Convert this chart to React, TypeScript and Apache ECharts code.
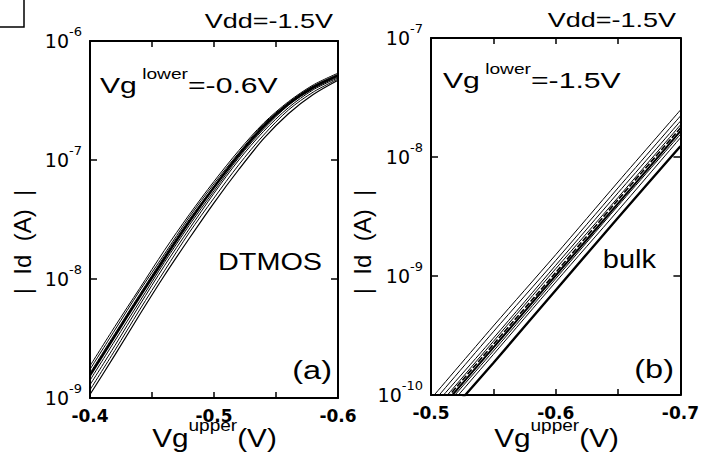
import React, { useEffect, useRef } from "react";
import * as echarts from "echarts";

// ---------- data ----------
// Panel (a): DTMOS, Vg_lower = -0.6 V
const dtmosV = [-0.4, -0.42, -0.44, -0.46, -0.48, -0.5, -0.52, -0.54, -0.56, -0.58, -0.6];
const dtmosId1 = [1.86e-9, 3.98e-9, 8.32e-9, 1.74e-8, 3.47e-8, 6.61e-8, 1.2e-7, 2.04e-7, 3.09e-7, 4.27e-7, 5.37e-7];
const dtmosId2 = [1.74e-9, 3.72e-9, 7.94e-9, 1.62e-8, 3.31e-8, 6.31e-8, 1.15e-7, 2.0e-7, 3.02e-7, 4.17e-7, 5.25e-7];
const dtmosId3 = [1.62e-9, 3.47e-9, 7.41e-9, 1.55e-8, 3.16e-8, 6.03e-8, 1.12e-7, 1.95e-7, 3.02e-7, 4.17e-7, 5.13e-7];
const dtmosId4 = [1.55e-9, 3.31e-9, 7.08e-9, 1.48e-8, 3.02e-8, 5.89e-8, 1.1e-7, 1.91e-7, 2.95e-7, 4.07e-7, 5.13e-7];
const dtmosId5 = [1.41e-9, 3.02e-9, 6.46e-9, 1.38e-8, 2.82e-8, 5.5e-8, 1.05e-7, 1.82e-7, 2.88e-7, 3.98e-7, 5.01e-7];
const dtmosId6 = [1.29e-9, 2.75e-9, 6.03e-9, 1.29e-8, 2.63e-8, 5.25e-8, 1.0e-7, 1.74e-7, 2.75e-7, 3.89e-7, 4.9e-7];
const dtmosId7 = [1.17e-9, 2.51e-9, 5.5e-9, 1.17e-8, 2.45e-8, 4.79e-8, 9.12e-8, 1.62e-7, 2.63e-7, 3.72e-7, 4.79e-7];
const dtmosId8 = [1.07e-9, 2.29e-9, 5.01e-9, 1.07e-8, 2.19e-8, 4.37e-8, 8.32e-8, 1.51e-7, 2.45e-7, 3.55e-7, 4.68e-7];

// Panel (b): bulk, Vg_lower = -1.5 V
const bulkV = [-0.5, -0.55, -0.6, -0.65, -0.7];
const bulkId1 = [9.3e-11, 3.8e-10, 1.51e-9, 6.17e-9, 2.48e-8];
const bulkId2 = [8.3e-11, 3.4e-10, 1.35e-9, 5.5e-9, 2.21e-8];
const bulkId3 = [7.6e-11, 3.0e-10, 1.23e-9, 5.0e-9, 2.0e-8];
const bulkId4 = [6.9e-11, 2.82e-10, 1.15e-9, 4.57e-9, 1.86e-8];
const bulkId5 = [6.6e-11, 2.66e-10, 1.07e-9, 4.37e-9, 1.75e-8];
const bulkId6 = [6.2e-11, 2.5e-10, 1.01e-9, 4.07e-9, 1.65e-8];
const bulkId7 = [5.9e-11, 2.34e-10, 9.5e-10, 3.89e-9, 1.55e-8];
const bulkId8 = [5.4e-11, 2.19e-10, 8.9e-10, 3.55e-9, 1.45e-8];
const bulkId9 = [4.7e-11, 1.86e-10, 7.6e-10, 3.09e-9, 1.23e-8];

// axis ranges / labels
const panelAXRange = [-0.6, -0.4];
const panelBXRange = [-0.7, -0.5];
const panelAYRange = [1e-9, 1e-6];
const panelBYRange = [1e-10, 1e-7];
const xTickStep = 0.05;

const SANS = "'Liberation Sans', Arial, Helvetica, sans-serif";
const WIDE = "'DejaVu Sans', 'Liberation Sans', sans-serif";

function xAxis(gridIndex: number, range: number[], top: boolean) {
  return {
    type: "value",
    gridIndex,
    position: top ? "top" : "bottom",
    min: range[0],
    max: range[1],
    interval: xTickStep,
    inverse: true,
    axisLine: { show: true, onZero: false, lineStyle: { color: "#000", width: 2 } },
    axisTick: { show: true, inside: true, length: 6, lineStyle: { color: "#000", width: 1.5 } },
    splitLine: { show: false },
    axisLabel: top
      ? { show: false }
      : {
          show: true,
          margin: 9,
          color: "#000",
          fontFamily: WIDE,
          fontWeight: "bold",
          fontSize: 17,
          showMinLabel: true,
          showMaxLabel: true,
          formatter: (v: number) =>
            Math.abs(Math.round(v * 100)) % 10 === 0 ? v.toFixed(1) : "",
        },
  };
}

function yAxis(gridIndex: number, range: number[], right: boolean) {
  return {
    type: "log",
    logBase: 10,
    gridIndex,
    position: right ? "right" : "left",
    min: range[0],
    max: range[1],
    axisLine: { show: true, onZero: false, lineStyle: { color: "#000", width: 2 } },
    axisTick: { show: true, inside: true, length: 7, lineStyle: { color: "#000", width: 1.5 } },
    splitLine: { show: false },
    minorTick: { show: false },
    axisLabel: right
      ? { show: false }
      : {
          show: true,
          margin: 8,
          color: "#000",
          formatter: (v: number) => {
            const e = Math.round(Math.log10(v));
            return `{b|10}{s|${e}}`;
          },
          rich: {
            b: { fontFamily: WIDE, fontSize: 19, lineHeight: 32, color: "#000" },
            s: { fontFamily: WIDE, fontSize: 13, lineHeight: 14, verticalAlign: "top", color: "#000" },
          },
        },
  };
}

function lineSeries(
  name: string,
  xs: number[],
  ys: number[],
  axisIdx: number,
  width: number,
  dashed = false
) {
  return {
    type: "line",
    name,
    xAxisIndex: axisIdx,
    yAxisIndex: axisIdx,
    data: xs.map((x, i) => [x, ys[i]]),
    showSymbol: false,
    symbol: "none",
    smooth: 0.3,
    clip: true,
    lineStyle: { color: "#000", width, type: dashed ? [6, 2] : "solid" },
    z: width > 1.5 ? 3 : 2,
  };
}

function richText(
  x: number,
  y: number,
  text: string,
  align: string,
  scaleX: number,
  main: number,
  sup: number,
  mainLH: number
) {
  return {
    type: "text",
    x,
    y,
    scaleX,
    scaleY: 1,
    style: {
      text,
      fill: "#000",
      align,
      verticalAlign: "middle",
      textAlign: align,
      textVerticalAlign: "middle",
      rich: {
        m: { fontFamily: SANS, fontSize: main, lineHeight: mainLH, fill: "#000", color: "#000" },
        s: { fontFamily: SANS, fontSize: sup, lineHeight: sup + 2, verticalAlign: "top", fill: "#000", color: "#000" },
      },
    },
  };
}

function plainText(x: number, y: number, text: string, align: string, size: number, scaleX: number, rotation = 0) {
  return {
    type: "text",
    x,
    y,
    scaleX,
    scaleY: 1,
    rotation,
    style: {
      text,
      fill: "#000",
      font: `${size}px ${SANS}`,
      fontFamily: SANS,
      fontSize: size,
      align,
      verticalAlign: "middle",
      textAlign: align,
      textVerticalAlign: "middle",
    },
  };
}

const option = {
  animation: false,
  backgroundColor: "#fff",
  grid: [
    { left: 90, top: 41, width: 248, height: 357, containLabel: false },
    { left: 431, top: 38, width: 251, height: 357, containLabel: false },
  ],
  xAxis: [
    xAxis(0, panelAXRange, false),
    xAxis(0, panelAXRange, true),
    xAxis(1, panelBXRange, false),
    xAxis(1, panelBXRange, true),
  ],
  yAxis: [
    yAxis(0, panelAYRange, false),
    yAxis(0, panelAYRange, true),
    yAxis(1, panelBYRange, false),
    yAxis(1, panelBYRange, true),
  ],
  series: [
    lineSeries("DTMOS 1", dtmosV, dtmosId1, 0, 1),
    lineSeries("DTMOS 2", dtmosV, dtmosId2, 0, 1),
    lineSeries("DTMOS 3", dtmosV, dtmosId3, 0, 1),
    lineSeries("DTMOS 4", dtmosV, dtmosId4, 0, 2.4),
    lineSeries("DTMOS 5", dtmosV, dtmosId5, 0, 1),
    lineSeries("DTMOS 6", dtmosV, dtmosId6, 0, 1),
    lineSeries("DTMOS 7", dtmosV, dtmosId7, 0, 1),
    lineSeries("DTMOS 8", dtmosV, dtmosId8, 0, 1.2),
    lineSeries("bulk 1", bulkV, bulkId1, 2, 1),
    lineSeries("bulk 2", bulkV, bulkId2, 2, 1),
    lineSeries("bulk 3", bulkV, bulkId3, 2, 1),
    lineSeries("bulk 4", bulkV, bulkId4, 2, 1),
    lineSeries("bulk 5", bulkV, bulkId5, 2, 1.6, true),
    lineSeries("bulk 6", bulkV, bulkId6, 2, 2),
    lineSeries("bulk 7", bulkV, bulkId7, 2, 1),
    lineSeries("bulk 8", bulkV, bulkId8, 2, 1),
    lineSeries("bulk 9", bulkV, bulkId9, 2, 2.4),
  ],
  graphic: [
    {
      type: "polyline",
      shape: { points: [[0, 27], [24, 27], [24, 0]] },
      style: { stroke: "#000", lineWidth: 1.5, fill: "none" },
    },
    // panel (a)
    plainText(333, 21, "Vdd=-1.5V", "right", 20, 1.35),
    richText(100, 85, "{m|Vg}{s| lower}{m|=-0.6V}", "left", 1.37, 22, 14, 36),
    plainText(322, 262, "DTMOS", "right", 24, 1.2),
    plainText(332, 370, "(a)", "right", 25, 1.3),
    richText(214.5, 438, "{m|Vg}{s|upper}{m|(V)}", "center", 1.19, 25, 16, 40),
    plainText(22, 242, "|  Id  (A)  |", "center", 24, 1, Math.PI / 2),
    // panel (b)
    plainText(676, 20, "Vdd=-1.5V", "right", 20, 1.35),
    richText(443, 80, "{m|Vg}{s| lower}{m|=-1.5V}", "left", 1.37, 22, 14, 36),
    plainText(656, 259, "bulk", "right", 25, 1.16),
    plainText(674, 369, "(b)", "right", 25, 1.3),
    richText(556.5, 438, "{m|Vg}{s|upper}{m|(V)}", "center", 1.19, 25, 16, 40),
    plainText(362, 242, "|  Id  (A)  |", "center", 24, 1, Math.PI / 2),
  ],
};

export default function App() {
  const ref = useRef<HTMLDivElement>(null);
  useEffect(() => {
    if (!ref.current) return;
    const chart = echarts.init(ref.current, null, { renderer: "svg" });
    chart.setOption(option as any);
    return () => chart.dispose();
  }, []);
  return (
    <div
      ref={ref}
      style={{ position: "absolute", left: 0, top: 0, width: 702, height: 457, background: "#fff" }}
    />
  );
}
